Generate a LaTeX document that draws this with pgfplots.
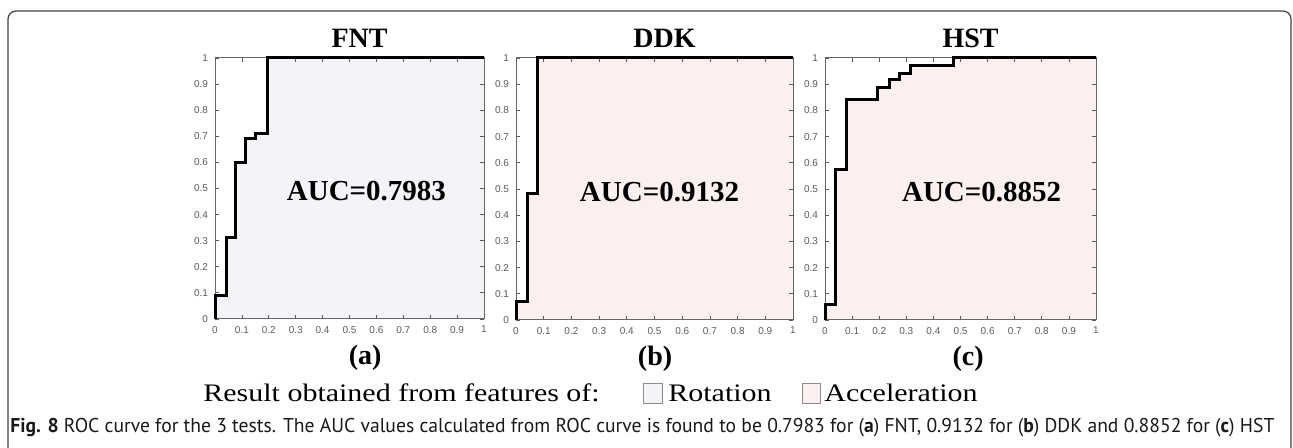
\documentclass[border=0pt]{standalone}
\usepackage{fontspec}
\usepackage{graphicx}
\setmainfont{Liberation Serif}
\newfontfamily\tickfont{Liberation Sans}
\newfontfamily\legfont{Liberation Serif}[FakeStretch=1.19]
\newfontfamily\capfont{PT Sans}
\usepackage{pgfplots}
\pgfplotsset{compat=1.18}
\definecolor{rotfill}{RGB}{243,244,247}
\definecolor{accfill}{RGB}{251,240,239}
\definecolor{tickgray}{RGB}{90,90,90}

\pgfplotsset{
  basegeom/.style={
    scale only axis, clip=false,
    anchor=south west,
    xmin=0, xmax=1, ymin=0, ymax=1,
  },
  fillaxis/.style={basegeom, hide axis},
  rocaxis/.style={
    basegeom,
    xtick={0,0.1,0.2,0.3,0.4,0.5,0.6,0.7,0.8,0.9,1},
    ytick={0,0.1,0.2,0.3,0.4,0.5,0.6,0.7,0.8,0.9,1},
    tick align=inside,
    major tick length=2pt,
    axis line style={draw=black!60, line width=0.5pt},
    tick style={draw=black!65, line width=0.4pt},
    tick label style={font=\tickfont\fontsize{5}{6}\selectfont, text=tickgray,
      /pgf/number format/assume math mode=true},
    title style={font=\fontsize{14}{16}\selectfont\bfseries, at={(0.5,1)},
      anchor=center, yshift=4pt, xshift=5pt},
  },
  roc/.style={black, line width=1.5pt, line join=miter},
}
\tikzset{
  auc/.style={font=\fontsize{14.5}{16}\selectfont\bfseries},
  sub/.style={font=\fontsize{14}{16}\selectfont\bfseries},
  leg/.style={anchor=base west, inner sep=0, font=\legfont\fontsize{12.6}{15}\selectfont},
}

\pgfplotstableread{
x y
0 0
0 0.09
0.041 0.09
0.041 0.311
0.078 0.311
0.078 0.600
0.114 0.600
0.114 0.690
0.149 0.690
0.149 0.711
0.195 0.711
0.195 1
1 1
}\fnt
\pgfplotstableread{
x y
0 0
0 0.07
0.041 0.07
0.041 0.484
0.077 0.484
0.077 1
1 1
}\ddk
\pgfplotstableread{
x y
0 0
0 0.06
0.039 0.06
0.039 0.575
0.080 0.575
0.080 0.840
0.194 0.840
0.194 0.888
0.237 0.888
0.237 0.919
0.273 0.919
0.273 0.942
0.317 0.942
0.317 0.973
0.473 0.973
0.473 1
1 1
}\hst

\begin{document}
\begin{tikzpicture}
\path[use as bounding box] (0,0) rectangle (646.5pt,224pt);
\draw[black!75, line width=0.6pt, rounded corners=4pt]
  (4pt,0) -- (4pt,218.5pt) -- (645.5pt,218.5pt) -- (645.5pt,0);

% FNT
\begin{axis}[fillaxis, at={(107.5pt,64.5pt)}, width=134.5pt, height=130.5pt]
\addplot[fill=rotfill, draw=none] table {\fnt} \closedcycle;
\end{axis}
\begin{axis}[rocaxis, at={(107.5pt,64.5pt)}, width=134.5pt, height=130.5pt, title={FNT}]
\addplot[roc] table {\fnt};
\node[auc] at (axis cs:0.563,0.49) {AUC=0.7983};
\node[sub] at (rel axis cs:0.558,-0.149) {(a)};
\end{axis}

% DDK
\begin{axis}[fillaxis, at={(258pt,64pt)}, width=138.5pt, height=131pt]
\addplot[fill=accfill, draw=none] table {\ddk} \closedcycle;
\end{axis}
\begin{axis}[rocaxis, at={(258pt,64pt)}, width=138.5pt, height=131pt, title={DDK}]
\addplot[roc] table {\ddk};
\node[auc] at (axis cs:0.518,0.49) {AUC=0.9132};
\node[sub] at (rel axis cs:0.502,-0.148) {(b)};
\end{axis}

% HST
\begin{axis}[fillaxis, at={(412.5pt,64pt)}, width=135.5pt, height=131pt]
\addplot[fill=accfill, draw=none] table {\hst} \closedcycle;
\end{axis}
\begin{axis}[rocaxis, at={(412.5pt,64pt)}, width=135.5pt, height=131pt, title={HST}]
\addplot[roc] table {\hst};
\node[auc] at (axis cs:0.578,0.49) {AUC=0.8852};
\node[sub] at (rel axis cs:0.528,-0.148) {(c)};
\end{axis}

% legend line
\node[leg] at (101.5pt,23.2pt) {Result obtained from features of:};
\draw[black!45, line width=0.4pt, fill=rotfill] (321.5pt,22.5pt) rectangle (331pt,32.5pt);
\node[leg] at (334pt,23.2pt) {Rotation};
\draw[black!45, line width=0.4pt, fill=accfill] (401pt,22.5pt) rectangle (410pt,32.5pt);
\node[leg] at (412pt,23.2pt) {Acceleration};

% caption
\node[anchor=base west, inner sep=0, text=black!90, font=\capfont\fontsize{10}{12}\selectfont]
  at (5pt,7.5pt) {\resizebox{632pt}{\height}{\textbf{Fig. 8} ROC curve for the 3 tests. The AUC values calculated from ROC curve is found to be 0.7983 for (\textbf{a}) FNT, 0.9132 for (\textbf{b}) DDK and 0.8852 for (\textbf{c}) HST}};
\end{tikzpicture}
\end{document}
